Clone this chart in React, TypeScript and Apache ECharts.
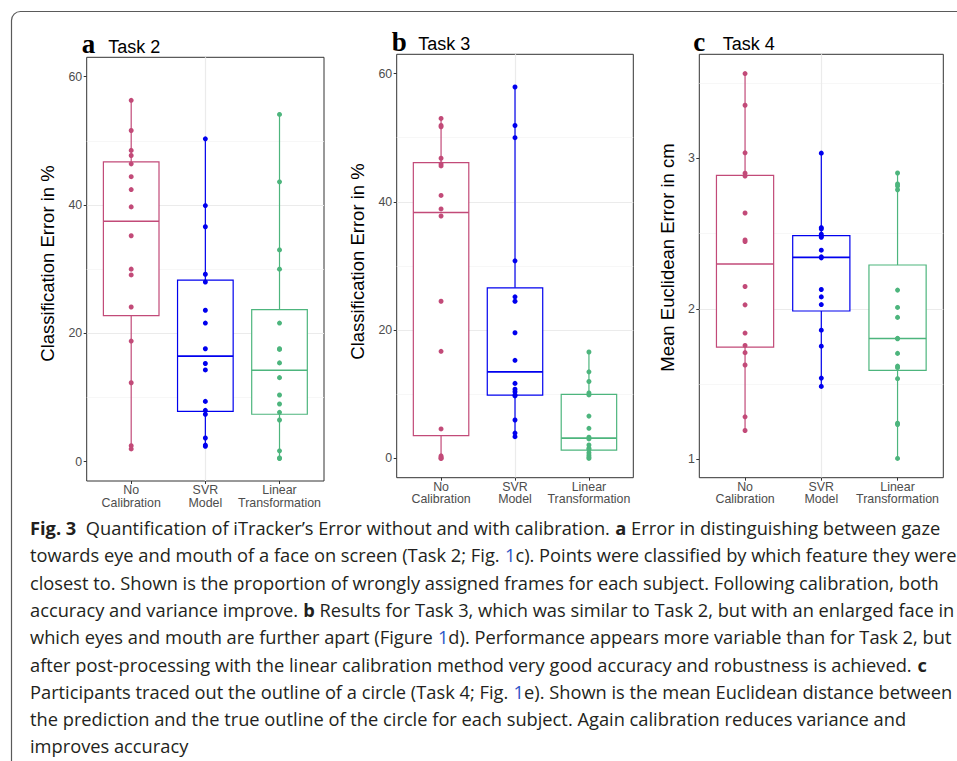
import React, { useEffect, useRef } from 'react';
import * as echarts from 'echarts';

// ---------- data ----------
const groups = ['No\nCalibration', 'SVR\nModel', 'Linear\nTransformation'];

const t2NoCal = [56.3, 51.6, 48.5, 47.7, 46.4, 44.4, 42.4, 39.7, 35.2, 30.0, 29.1, 24.1, 18.8, 12.3, 2.5, 2.0];
const t2SVR = [50.3, 39.9, 36.6, 29.2, 28.0, 23.6, 21.6, 17.6, 15.3, 14.3, 9.4, 8.0, 7.4, 3.7, 2.6, 2.4];
const t2Lin = [54.1, 43.6, 33.0, 30.0, 21.6, 17.6, 17.5, 15.4, 13.1, 10.4, 9.0, 7.7, 6.5, 1.7, 0.6, 0.5];

const t3NoCal = [53.0, 51.9, 51.7, 46.8, 45.9, 45.6, 41.0, 38.9, 37.8, 24.5, 16.7, 4.6, 0.4, 0.2, 0.0, 0.0];
const t3SVR = [57.9, 51.9, 50.0, 30.8, 25.2, 24.5, 19.6, 15.3, 11.7, 10.8, 10.4, 9.9, 9.75, 6.0, 3.96, 3.4];
const t3Lin = [16.6, 13.5, 12.0, 10.2, 9.9, 6.6, 4.7, 3.3, 3.05, 2.1, 1.6, 1.45, 0.9, 0.5, 0.2, 0.0];

const t4NoCal = [3.561, 3.351, 3.035, 2.9, 2.881, 2.636, 2.457, 2.446, 2.148, 2.026, 1.839, 1.757, 1.709, 1.627, 1.283, 1.192];
const t4SVR = [3.033, 2.539, 2.53, 2.495, 2.482, 2.475, 2.389, 2.345, 2.338, 2.128, 2.079, 2.028, 1.858, 1.752, 1.54, 1.485];
const t4Lin = [2.901, 2.828, 2.815, 2.79, 2.124, 2.009, 1.943, 1.804, 1.801, 1.704, 1.62, 1.609, 1.536, 1.241, 1.232, 1.007];

const yTicksPct = [0, 20, 40, 60];
const yTicksCm = [1, 2, 3];

const panelLetters = ['a', 'b', 'c'];
const panelTitles = ['Task 2', 'Task 3', 'Task 4'];
const yTitles = ['Classification Error in %', 'Classification Error in %', 'Mean Euclidean Error in cm'];

const captionLines = [
  '{b|Fig. 3}  Quantification of iTracker\u2019s Error without and with calibration. {b|a} Error in distinguishing between gaze',
  'towards eye and mouth of a face on screen (Task 2; Fig. {l|1}c). Points were classified by which feature they were',
  'closest to. Shown is the proportion of wrongly assigned frames for each subject. Following calibration, both',
  'accuracy and variance improve. {b|b} Results for Task 3, which was similar to Task 2, but with an enlarged face in',
  'which eyes and mouth are further apart (Figure {l|1}d). Performance appears more variable than for Task 2, but',
  'after post-processing with the linear calibration method very good accuracy and robustness is achieved. {b|c}',
  'Participants traced out the outline of a circle (Task 4; Fig. {l|1}e). Shown is the mean Euclidean distance between',
  'the prediction and the true outline of the circle for each subject. Again calibration reduces variance and',
  'improves accuracy',
];

// ---------- styling / layout ----------
const COLORS = ['#c24a78', '#0000ee', '#4db57d'];
const SANS = '"Liberation Sans", Arial, Helvetica, sans-serif';
const SERIF = '"Liberation Serif", "Times New Roman", serif';
const CAP_FONT = '"Open Sans", "Noto Sans", sans-serif';
const CAP_SIZE = 17.5;

const panels = [
  { data: [t2NoCal, t2SVR, t2Lin], yMin: -3, yMax: 63, ticks: yTicksPct,
    grid: { left: 86.7, top: 57.3, width: 237.3, height: 423.7 },
    letter: { x: 81.7, base: 53.3 }, title: { x: 108.3 }, yTitle: { x: 47.5, y: 263.5 } },
  { data: [t3NoCal, t3SVR, t3Lin], yMin: -3, yMax: 63, ticks: yTicksPct,
    grid: { left: 396.7, top: 54.3, width: 236.6, height: 423.4 },
    letter: { x: 391.7, base: 50.7 }, title: { x: 418.3 }, yTitle: { x: 357.5, y: 261.5 } },
  { data: [t4NoCal, t4SVR, t4Lin], yMin: 0.879, yMax: 3.689, ticks: yTicksCm,
    grid: { left: 699.3, top: 54.3, width: 244, height: 423.4 },
    letter: { x: 693.3, base: 50.7 }, title: { x: 722.7 }, yTitle: { x: 667.5, y: 257.5 } },
];

function quantile(sorted: number[], p: number) {
  const h = (sorted.length - 1) * p;
  const lo = Math.floor(h);
  const hi = Math.min(lo + 1, sorted.length - 1);
  return sorted[lo] + (h - lo) * (sorted[hi] - sorted[lo]);
}
function boxStats(arr: number[]) {
  const s = [...arr].sort((a, b) => a - b);
  return [s[0], quantile(s, 0.25), quantile(s, 0.5), quantile(s, 0.75), s[s.length - 1]];
}

function parseRich(line: string) {
  const segs: { t: string; s: string }[] = [];
  const re = /\{(\w+)\|([^}]*)\}/g;
  let last = 0;
  let m: RegExpExecArray | null;
  while ((m = re.exec(line))) {
    if (m.index > last) segs.push({ t: line.slice(last, m.index), s: '' });
    segs.push({ t: m[2], s: m[1] });
    last = re.lastIndex;
  }
  if (last < line.length) segs.push({ t: line.slice(last), s: '' });
  return segs;
}

function measureLine(line: string) {
  const canvas = document.createElement('canvas');
  const ctx = canvas.getContext('2d');
  if (!ctx) return 1;
  let w = 0;
  for (const seg of parseRich(line)) {
    ctx.font = `${seg.s === 'b' ? 'bold ' : ''}${CAP_SIZE}px ${CAP_FONT}`;
    w += ctx.measureText(seg.t).width;
  }
  return w;
}

function buildOption() {
  const grids: any[] = [];
  const xAxes: any[] = [];
  const yAxes: any[] = [];
  const series: any[] = [];
  const graphics: any[] = [];

  graphics.push({
    type: 'rect',
    shape: { x: 11.5, y: 11.5, width: 1000, height: 800, r: 9 },
    style: { fill: 'none', stroke: '#5a5a5a', lineWidth: 1.2 },
    silent: true,
  });

  panels.forEach((p, pi) => {
    grids.push({ ...p.grid, show: true, borderColor: '#333333', borderWidth: 1, backgroundColor: 'transparent', containLabel: false, outerBoundsMode: 'none' });
    xAxes.push({
      type: 'value', gridIndex: pi, min: 0.4, max: 3.6, splitNumber: 3, position: 'bottom',
      axisLine: { show: false, onZero: false },
      axisTick: { show: true, length: 3, lineStyle: { color: '#333333', width: 1 }, customValues: [1, 2, 3] },
      axisLabel: {
        show: true, margin: 3, color: '#4d4d4d', fontSize: 12.4, fontFamily: SANS, lineHeight: 12.5,
        showMinLabel: false, showMaxLabel: false,
        formatter: (v: number) => {
          const i = Math.round(v);
          return Math.abs(v - i) < 1e-6 && i >= 1 && i <= 3 ? groups[i - 1] : '';
        },
      },
      splitLine: { show: true, showMinLine: false, showMaxLine: false, lineStyle: { color: '#ebebeb', width: 1.2 } },
    });
    yAxes.push({
      type: 'value', gridIndex: pi, min: p.yMin, max: p.yMax, splitNumber: 3, position: 'left',
      axisLine: { show: false, onZero: false },
      axisTick: { show: true, length: 3, lineStyle: { color: '#333333', width: 1 }, customValues: p.ticks },
      axisLabel: {
        show: true, margin: 4.5, color: '#4d4d4d', fontSize: 12.4, fontFamily: SANS,
        showMinLabel: false, showMaxLabel: false,
        formatter: (v: number) => (p.ticks.some((t) => Math.abs(t - v) < 1e-6) ? String(v) : ''),
      },
      splitLine: { show: true, showMinLine: false, showMaxLine: false, lineStyle: { color: '#ebebeb', width: 1.2 } },
      minorTick: { show: false, splitNumber: 2 },
      minorSplitLine: { show: true, lineStyle: { color: '#f3f3f3', width: 0.7 } },
    });

    const boxData = p.data.map((arr, gi) => [gi + 1, ...boxStats(arr)]);
    series.push({
      type: 'custom',
      xAxisIndex: pi, yAxisIndex: pi,
      data: boxData,
      encode: { x: 0, y: [1, 2, 3, 4, 5] },
      silent: true,
      z: 1,
      renderItem: (params: any, api: any) => {
        const x = api.value(0);
        const mn = api.value(1), q1 = api.value(2), md = api.value(3), q3 = api.value(4), mx = api.value(5);
        const color = COLORS[params.dataIndex];
        const pMin = api.coord([x, mn]);
        const pQ1 = api.coord([x, q1]);
        const pMd = api.coord([x, md]);
        const pQ3 = api.coord([x, q3]);
        const pMax = api.coord([x, mx]);
        const left = api.coord([x - 0.375, md])[0];
        const right = api.coord([x + 0.375, md])[0];
        return {
          type: 'group',
          children: [
            { type: 'line', shape: { x1: pMax[0], y1: pMax[1], x2: pQ3[0], y2: pQ3[1] }, style: { stroke: color, lineWidth: 1.2 } },
            { type: 'line', shape: { x1: pQ1[0], y1: pQ1[1], x2: pMin[0], y2: pMin[1] }, style: { stroke: color, lineWidth: 1.2 } },
            { type: 'rect', shape: { x: left, y: pQ3[1], width: right - left, height: pQ1[1] - pQ3[1] }, style: { fill: '#ffffff', stroke: color, lineWidth: 1.2 } },
            { type: 'line', shape: { x1: left, y1: pMd[1], x2: right, y2: pMd[1] }, style: { stroke: color, lineWidth: 1.6 } },
          ],
        };
      },
    });
    p.data.forEach((arr, gi) => {
      series.push({
        type: 'scatter',
        xAxisIndex: pi, yAxisIndex: pi,
        data: arr.map((v) => [gi + 1, v]),
        symbol: 'circle',
        symbolSize: 5,
        itemStyle: { color: COLORS[gi], opacity: 1 },
        silent: true,
        z: 3,
      });
    });

    // panel letter and title
    graphics.push({
      type: 'text', x: p.letter.x, y: p.letter.base - 0.3375 * 27, silent: true,
      style: { text: panelLetters[pi], fontSize: 27, fontWeight: 'bold', fontFamily: SERIF, fill: '#000', textAlign: 'left', textVerticalAlign: 'middle', align: 'left', verticalAlign: 'middle' },
    });
    graphics.push({
      type: 'text', x: p.title.x, y: p.letter.base - 0.3465 * 18, silent: true,
      style: { text: panelTitles[pi], fontSize: 18, fontFamily: SANS, fill: '#000', textAlign: 'left', textVerticalAlign: 'middle', align: 'left', verticalAlign: 'middle' },
    });
    graphics.push({
      type: 'text', x: p.yTitle.x, y: p.yTitle.y, rotation: Math.PI / 2, silent: true,
      style: { text: yTitles[pi], fontSize: 18.5, fontFamily: SANS, fill: '#000', textAlign: 'center', textVerticalAlign: 'middle', align: 'center', verticalAlign: 'middle' },
    });
  });

  // caption
  const capScale = 911 / measureLine(captionLines[0]);
  const rich = {
    b: { fontWeight: 'bold', fontSize: CAP_SIZE, fontFamily: CAP_FONT, fill: '#231f20' },
    l: { fontSize: CAP_SIZE, fontFamily: CAP_FONT, fill: '#2f55c8' },
  };
  captionLines.forEach((line, i) => {
    const base = 535 + 27.3 * i;
    graphics.push({
      type: 'text', x: 30, y: base - 0.388 * CAP_SIZE, scaleX: capScale, silent: true,
      style: { text: line, fontSize: CAP_SIZE, fontFamily: CAP_FONT, fill: '#231f20', rich, textAlign: 'left', textVerticalAlign: 'middle', align: 'left', verticalAlign: 'middle' },
    });
  });

  return {
    animation: false,
    backgroundColor: '#ffffff',
    grid: grids,
    xAxis: xAxes,
    yAxis: yAxes,
    series,
    graphic: { elements: graphics },
  };
}

export default function App() {
  const ref = useRef<HTMLDivElement>(null);
  useEffect(() => {
    const el = ref.current;
    if (!el) return;
    const chart = echarts.init(el, null, { renderer: 'svg' });
    chart.setOption(buildOption() as any);
    return () => chart.dispose();
  }, []);
  return (
    <div
      ref={ref}
      style={{ position: 'absolute', left: 0, top: 0, width: 957, height: 761, background: '#ffffff' }}
    />
  );
}
